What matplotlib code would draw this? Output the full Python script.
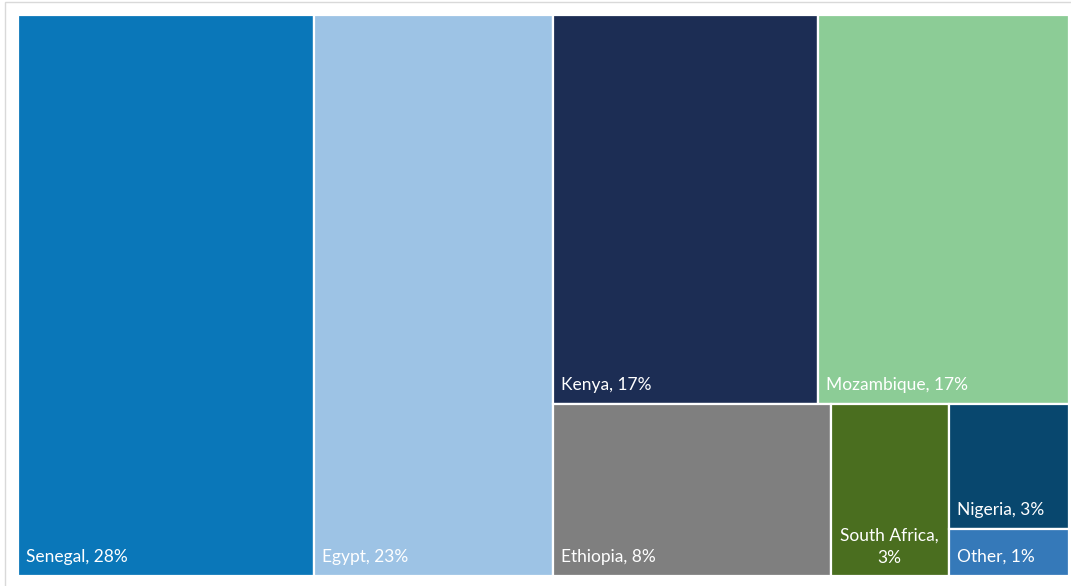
import matplotlib
matplotlib.use("Agg")
import matplotlib.pyplot as plt
from matplotlib.patches import Rectangle

countries = ["Senegal", "Egypt", "Kenya", "Mozambique", "Ethiopia", "South Africa", "Nigeria", "Other"]
shares = [28.1, 22.7, 17.45, 16.55, 8.1, 3.45, 2.55, 0.95]
shown_pct = [28, 23, 17, 17, 8, 3, 3, 1]
colors = ["#0A77B9", "#9DC3E5", "#1C2D54", "#8CCC96", "#7F7F7F", "#4A6E1F", "#08476E", "#3579B9"]

# Layout structure (Excel-style): nesting of indices, alternating split direction
layout = ("h", [0, 1, ("v", [("h", [2, 3]), ("h", [4, 5, ("v", [6, 7])])])])

W, H = 1071, 586
fig = plt.figure(figsize=(W / 100, H / 100), dpi=100)
plt.rcParams['font.family'] = ['Lato', 'DejaVu Sans']

# outer light border
fig.patches.append(Rectangle((5 / W, -0.1), 1.2, 1 - 2 / H + 0.1, transform=fig.transFigure,
                             fill=False, edgecolor="#D9D9D9", linewidth=1.0))

x0, x1, y0, y1 = 18, 1069, 15, 576
ax = fig.add_axes([x0 / W, 1 - y1 / H, (x1 - x0) / W, (y1 - y0) / H])
ax.set_xlim(0, 1)
ax.set_ylim(0, 1)
ax.axis("off")


def total(node):
    if isinstance(node, int):
        return shares[node]
    return sum(total(c) for c in node[1])


rects = {}


def place(node, x, y, w, h):
    if isinstance(node, int):
        rects[node] = (x, y, w, h)
        return
    d, children = node
    t = total(node)
    if d == "h":
        cx = x
        for c in children:
            cw = w * total(c) / t
            place(c, cx, y, cw, h)
            cx += cw
    else:
        cy = y + h
        for c in children:
            ch = h * total(c) / t
            cy -= ch
            place(c, x, cy, w, ch)


place(layout, 0, 0, 1, 1)

fig.canvas.draw()
renderer = fig.canvas.get_renderer()
axw = (x1 - x0)
axh = (y1 - y0)
fs = 12.5
for i, (x, y, w, h) in rects.items():
    ax.add_patch(Rectangle((x, y), w, h, facecolor=colors[i], edgecolor="white", linewidth=1.6))
    label = f"{countries[i]}, {shown_pct[i]}%"
    pad = 8 / axw
    t = ax.text(x + pad, y + 19 / axh, label, color="white", fontsize=fs, ha="left", va="center")
    bb = t.get_window_extent(renderer)
    if bb.width > w * axw - 12:
        t.remove()
        ax.text(x + w / 2, y + 10 / axh, label.replace(", ", ",\n"), color="white", fontsize=fs,
                ha="center", va="bottom", multialignment="center", linespacing=1.5)

fig.savefig("out.png", dpi=100)
